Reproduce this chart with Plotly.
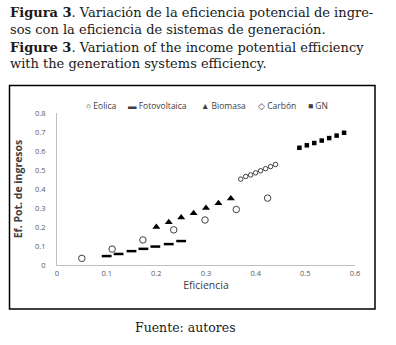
import plotly.graph_objects as go

# Data
eolica_x = [0.05, 0.111, 0.173, 0.235, 0.298, 0.361, 0.424]
eolica_y = [0.035, 0.084, 0.132, 0.185, 0.237, 0.292, 0.352]
foto_x = [0.10, 0.124, 0.15, 0.174, 0.198, 0.225, 0.25]
foto_y = [0.047, 0.058, 0.073, 0.085, 0.097, 0.11, 0.126]
bio_x = [0.20, 0.225, 0.25, 0.275, 0.30, 0.325, 0.35]
bio_y = [0.20, 0.225, 0.25, 0.273, 0.30, 0.325, 0.35]
carbon_x = [0.37, 0.38, 0.39, 0.40, 0.41, 0.42, 0.43, 0.44]
carbon_y = [0.452, 0.466, 0.474, 0.485, 0.496, 0.507, 0.518, 0.529]
gn_x = [0.488, 0.503, 0.518, 0.533, 0.548, 0.563, 0.578]
gn_y = [0.617, 0.630, 0.642, 0.655, 0.668, 0.681, 0.696]
x_ticks = [0, 0.1, 0.2, 0.3, 0.4, 0.5, 0.6]
x_labels = ["0", "0.1", "0.2", "0.3", "0.4", "0.5", "0.6"]
y_ticks = [0, 0.1, 0.2, 0.3, 0.4, 0.5, 0.6, 0.7, 0.8]
y_labels = ["0", "0.1", "0.2", "0.3", "0.4", "0.5", "0.6", "0.7", "0.8"]
legend_items = ["○ Eolica", "▬ Fotovoltaica", "▲ Biomasa", "◇ Carbón", "■ GN"]

W, H = 396, 345
L, R, T, B = 57, 355, 113, 265  # plot area pixels


def px(x):
    return (x - L) / (R - L)


def py(y):
    return (B - y) / (B - T)


fig = go.Figure()
fig.add_trace(go.Scatter(x=eolica_x, y=eolica_y, mode="markers", name="Eolica",
                         marker=dict(symbol="circle-open", size=6.5, color="#404040",
                                     line=dict(width=1, color="#404040"))))
fig.add_trace(go.Scatter(x=foto_x, y=foto_y, mode="markers", name="Fotovoltaica",
                         marker=dict(symbol="line-ew", size=7, color="black",
                                     line=dict(width=2.5, color="black"))))
fig.add_trace(go.Scatter(x=bio_x, y=bio_y, mode="markers", name="Biomasa",
                         marker=dict(symbol="triangle-up", size=7, color="black")))
fig.add_trace(go.Scatter(x=carbon_x, y=carbon_y, mode="markers", name="Carbón",
                         marker=dict(symbol="circle-open", size=4.5, color="#404040",
                                     line=dict(width=1, color="#404040"))))
fig.add_trace(go.Scatter(x=gn_x, y=gn_y, mode="markers", name="GN",
                         marker=dict(symbol="square", size=4.5, color="black")))

tickfont = dict(family="Open Sans", size=7.5, color="#595959")
fig.update_xaxes(range=[0, 0.6], tickvals=x_ticks, ticktext=x_labels, showgrid=False,
                 zeroline=False, showline=True, linecolor="#bfbfbf", linewidth=1,
                 ticks="", tickfont=tickfont, ticklabelstandoff=1,
                 title=dict(text="Eficiencia", font=dict(family="Open Sans", size=10.5, color="#404040"),
                            standoff=2))
fig.update_yaxes(range=[0, 0.8], tickvals=y_ticks, ticktext=y_labels, showgrid=False,
                 zeroline=False, showline=True, linecolor="#bfbfbf", linewidth=1,
                 ticks="", tickfont=tickfont, ticklabelstandoff=9,
                 title=dict(text="<b>Ef. Pot. de ingresos</b>",
                            font=dict(family="Open Sans", size=10.5, color="#404040"), standoff=10))

serif = "DejaVu Serif"
lines = [
    ("<b>Figura 3</b>. Variación de la eficiencia potencial de ingre-", 12),
    ("sos con la eficiencia de sistemas de generación.", 29),
    ("<b>Figure 3</b>. Variation of the income potential efficiency", 47),
    ("with the generation systems efficiency.", 64),
]
annotations = []
for txt, yc in lines:
    annotations.append(dict(text=txt, x=px(8), y=py(yc), xref="paper", yref="paper",
                            xanchor="left", yanchor="middle", showarrow=False,
                            font=dict(family=serif, size=13, color="#1a1a1a")))
annotations.append(dict(text="Fuente: autores", x=px(185), y=py(327), xref="paper", yref="paper",
                        xanchor="center", yanchor="middle", showarrow=False,
                        font=dict(family=serif, size=12.5, color="#1a1a1a")))
legend_x = [84, 126, 199, 256, 306]
for txt, lx in zip(legend_items, legend_x):
    annotations.append(dict(text=txt, x=px(lx), y=py(105), xref="paper", yref="paper",
                            xanchor="left", yanchor="middle", showarrow=False,
                            font=dict(family="Open Sans", size=8.5, color="#404040")))

fig.update_layout(
    width=W, height=H,
    margin=dict(l=L, r=W - R, t=T, b=H - B, pad=0),
    paper_bgcolor="white", plot_bgcolor="white",
    showlegend=False,
    annotations=annotations,
    shapes=[dict(type="rect", xref="paper", yref="paper",
                 x0=px(9.5), x1=px(375), y0=py(309), y1=py(85.5),
                 line=dict(color="black", width=1.5), fillcolor="rgba(0,0,0,0)", layer="below")],
)

fig.write_html("out.html", config={"displayModeBar": False},
               post_script="document.body.style.margin='0';")
